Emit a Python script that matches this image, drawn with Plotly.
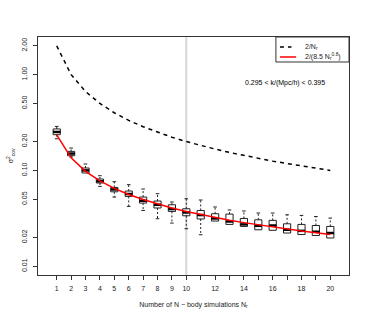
import plotly.graph_objects as go

# numero de simulacoes
n_sim = list(range(1, 21))
n_labels = ["1", "2", "3", "4", "5", "6", "7", "8", "9", "10",
            "", "12", "", "14", "", "16", "", "18", "", "20"]

# estatisticas dos boxplots
whisk_low = [0.214, 0.138, 0.094, 0.0681, 0.0527, 0.0421, 0.0382, 0.0313, 0.0282, 0.0246,
             0.0213, 0.0296, 0.0273, 0.0260, 0.0240, 0.0237, 0.0222, 0.0214, 0.0209, 0.0197]
q1 = [0.236, 0.1425, 0.094, 0.0739, 0.0598, 0.0535, 0.0456, 0.0405, 0.0373, 0.0336,
      0.0311, 0.0296, 0.0273, 0.0260, 0.0240, 0.0237, 0.0222, 0.0214, 0.0209, 0.0197]
mediana = [0.252, 0.150, 0.100, 0.0771, 0.0633, 0.0567, 0.0482, 0.0438, 0.0395, 0.0364,
           0.0342, 0.0315, 0.0293, 0.0273, 0.0264, 0.0266, 0.0240, 0.0234, 0.0229, 0.0222]
q3 = [0.271, 0.158, 0.106, 0.0813, 0.0664, 0.0609, 0.0527, 0.0479, 0.0438, 0.0398,
      0.0382, 0.0353, 0.0350, 0.0315, 0.0305, 0.0301, 0.0277, 0.0273, 0.0266, 0.0260]
whisk_high = [0.288, 0.1714, 0.1166, 0.0880, 0.0762, 0.0710, 0.0639, 0.0571, 0.0468, 0.0506,
              0.0491, 0.0415, 0.0386, 0.0377, 0.0359, 0.0359, 0.0344, 0.0339, 0.0330, 0.0318]

# curvas de referencia
curva_2_n = [2.0, 1.0, 0.667, 0.5, 0.4, 0.333, 0.286, 0.25, 0.222, 0.2,
             0.182, 0.167, 0.154, 0.143, 0.133, 0.125, 0.118, 0.111, 0.105, 0.1]
curva_ajuste = [0.2353, 0.1352, 0.0977, 0.0776, 0.0649, 0.0561, 0.0496, 0.0446, 0.0406, 0.0373,
                0.0346, 0.0322, 0.0302, 0.0285, 0.0270, 0.0256, 0.0244, 0.0233, 0.0223, 0.0214]

y_ticks = [0.01, 0.02, 0.05, 0.10, 0.20, 0.50, 1.00, 2.00]
y_ticktext = ["0.01", "0.02", "0.05", "0.10", "0.20", "0.50", "1.00", "2.00"]
n_marcado = 10
texto_k = "0.295 < k/(Mpc/h) < 0.395"
nome_2_n = "2/N<sub>r</sub>"
nome_ajuste = "2/(8.5 N<sub>r</sub><sup>0.8</sup>)"

fonte = "Liberation Sans, Arial, sans-serif"
meia = 0.25
traco = dict(color="black", width=1.5, dash="4px,4px")
vermelho = dict(color="red", width=1.5)

fig = go.Figure()

fig.add_vline(x=n_marcado, line=dict(color="#d6d6d6", width=2), layer="below")

fig.add_trace(go.Box(
    x=n_sim, q1=q1, median=mediana, q3=q3,
    lowerfence=q1, upperfence=q3,
    width=2 * meia, fillcolor="rgba(0,0,0,0)",
    line=dict(color="#222222", width=1),
    whiskerwidth=0, showlegend=False, hoverinfo="skip"))

# bigodes tracejados e hastes
wx, wy, cx, cy, mx, my = [], [], [], [], [], []
for i, n in enumerate(n_sim):
    if whisk_high[i] > q3[i]:
        wx += [n, n, None]
        wy += [q3[i], whisk_high[i], None]
        cx += [n - meia / 2, n + meia / 2, None]
        cy += [whisk_high[i], whisk_high[i], None]
    if whisk_low[i] < q1[i]:
        wx += [n, n, None]
        wy += [q1[i], whisk_low[i], None]
        cx += [n - meia / 2, n + meia / 2, None]
        cy += [whisk_low[i], whisk_low[i], None]
    mx += [n - meia, n + meia, None]
    my += [mediana[i], mediana[i], None]

fig.add_trace(go.Scatter(x=wx, y=wy, mode="lines", showlegend=False, hoverinfo="skip",
                         line=dict(color="#222222", width=1, dash="2px,2px")))
fig.add_trace(go.Scatter(x=cx, y=cy, mode="lines", showlegend=False, hoverinfo="skip",
                         line=dict(color="#222222", width=1)))
fig.add_trace(go.Scatter(x=mx, y=my, mode="lines", showlegend=False, hoverinfo="skip",
                         line=dict(color="black", width=2.5)))

fig.add_trace(go.Scatter(x=n_sim, y=curva_2_n, mode="lines", name=nome_2_n,
                         line=traco, showlegend=False))
fig.add_trace(go.Scatter(x=n_sim, y=curva_ajuste, mode="lines", name=nome_ajuste,
                         line=vermelho, showlegend=False))

# legenda desenhada a mao (caixa estilo R)
fig.add_shape(type="rect", xref="paper", yref="paper", x0=0.765, x1=1, y0=0.895, y1=1,
              line=dict(color="#333333", width=1), fillcolor="white")
fig.add_shape(type="line", xref="paper", yref="paper", x0=0.778, x1=0.815, y0=0.958, y1=0.958,
              line=traco)
fig.add_shape(type="line", xref="paper", yref="paper", x0=0.778, x1=0.830, y0=0.916, y1=0.916,
              line=vermelho)
fig.add_annotation(text=nome_2_n, xref="paper", yref="paper", x=0.852, y=0.958,
                   xanchor="left", yanchor="middle", showarrow=False, font=dict(size=7))
fig.add_annotation(text=nome_ajuste, xref="paper", yref="paper", x=0.852, y=0.916,
                   xanchor="left", yanchor="middle", showarrow=False, font=dict(size=7))

fig.add_annotation(text=texto_k, xref="paper", yref="paper", x=0.66, y=0.807,
                   xanchor="left", yanchor="middle", showarrow=False,
                   font=dict(size=7, color="black"))

fig.update_xaxes(range=[-0.3, 21.3], tickvals=n_sim, ticktext=n_labels,
                 showline=True, mirror=True, linecolor="#333333", linewidth=1,
                 ticks="outside", ticklen=4, tickcolor="#333333", showgrid=False, zeroline=False,
                 tickfont=dict(size=7), automargin=False, ticklabelstandoff=3,
                 title=dict(text="Number of N \u2212 body simulations N<sub>r</sub>",
                            font=dict(size=7), standoff=10))
fig.update_yaxes(type="log", range=[-2.092, 0.393], tickvals=y_ticks, ticktext=y_ticktext,
                 showline=True, mirror=True, linecolor="#333333", linewidth=1,
                 ticks="outside", ticklen=4, tickcolor="#333333", showgrid=False, zeroline=False,
                 tickangle=-90, tickfont=dict(size=7), automargin=False, ticklabelstandoff=3,
                 title=dict(text="\u03c3<sup>2</sup><sub>cov</sub>", font=dict(size=7), standoff=6))

fig.update_layout(
    width=368, height=322,
    margin=dict(l=38, r=19, t=37, b=47),
    plot_bgcolor="white", paper_bgcolor="white",
    font=dict(family=fonte, color="#222222", size=7),
    showlegend=False)

fig.write_html("out.html", config={"displayModeBar": False},
               post_script="document.body.style.margin='0';")
